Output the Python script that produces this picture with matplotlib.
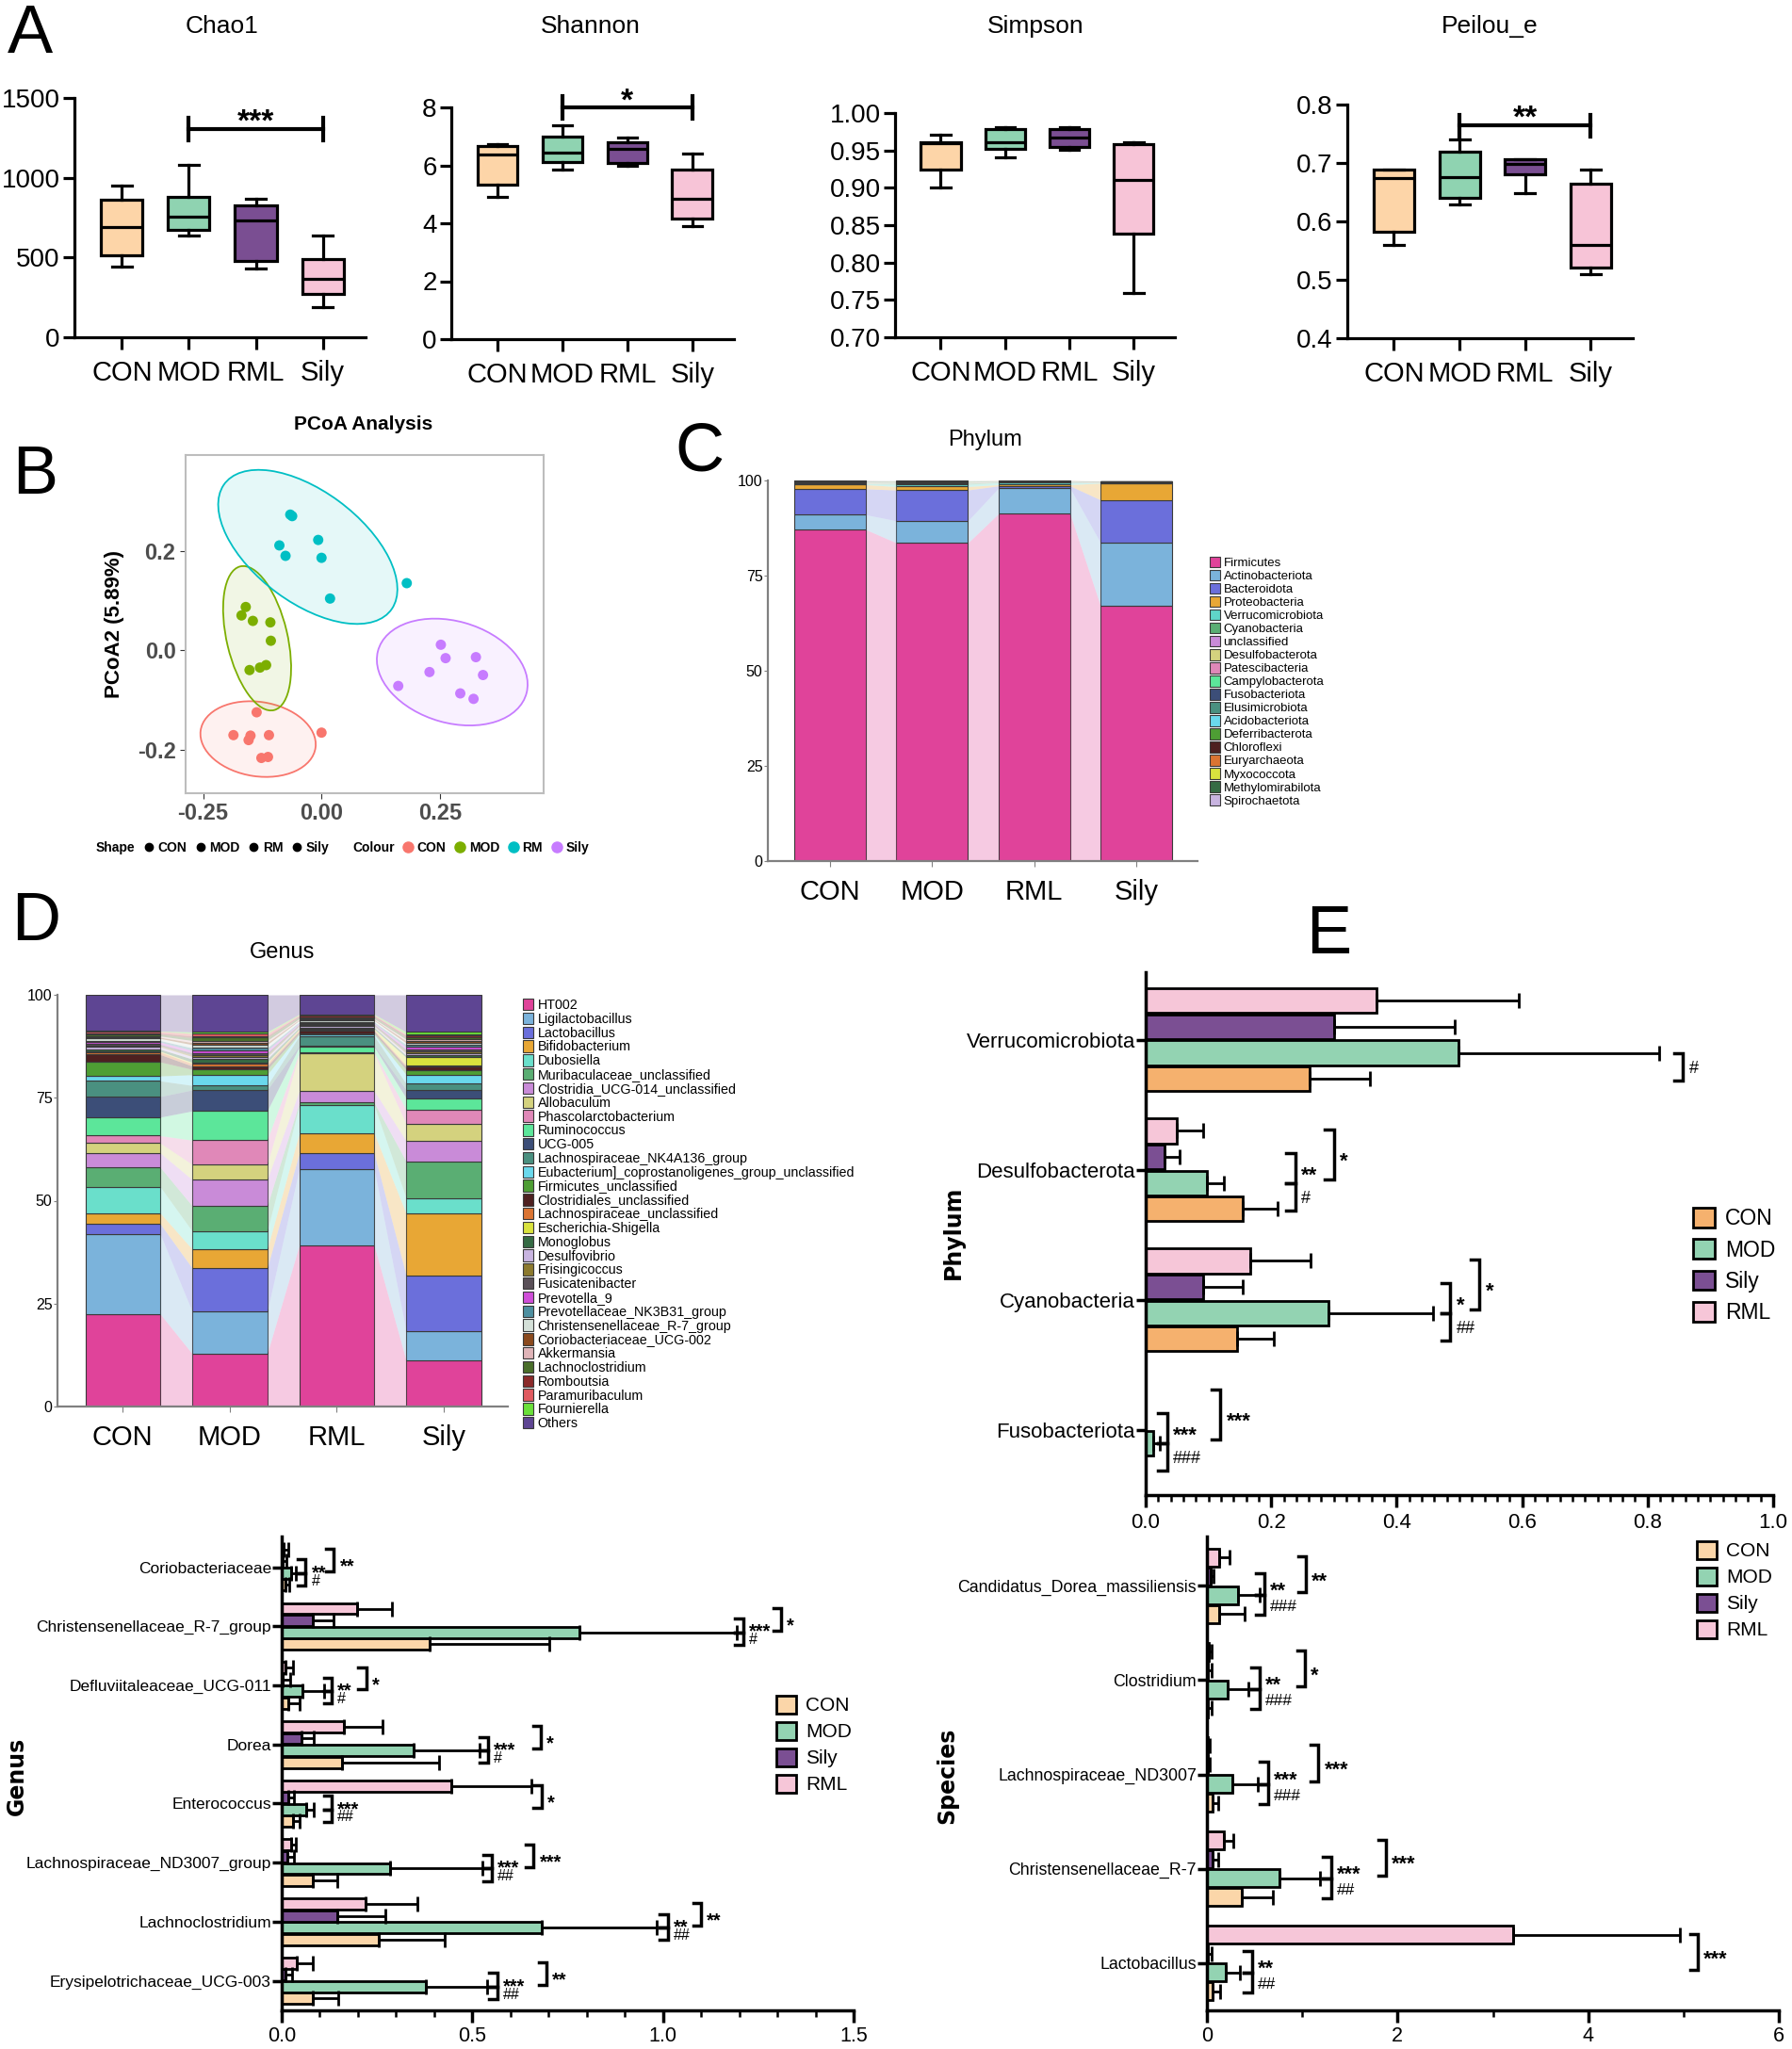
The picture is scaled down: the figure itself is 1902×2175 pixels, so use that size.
import numpy as np
import matplotlib
matplotlib.use('Agg')
import matplotlib.pyplot as plt
from matplotlib.patches import Ellipse
from matplotlib.lines import Line2D
from matplotlib.colors import to_rgba
from matplotlib.ticker import MultipleLocator
from matplotlib import font_manager

W, H = 1902, 2175
installed = {f.name for f in font_manager.fontManager.ttflist}
NARROW = 'Liberation Sans Narrow' if 'Liberation Sans Narrow' in installed else 'Liberation Sans'
plt.rcParams['font.family'] = [NARROW, 'DejaVu Sans']

# ---------------- data ----------------
groups = ['CON', 'MOD', 'RML', 'Sily']

# box stats: low whisker, q1, median, q3, high whisker
chao1 = [[441, 515, 689, 863, 952], [639, 675, 758, 881, 1081],
         [431, 481, 732, 827, 871], [188, 273, 366, 491, 635]]
shannon = [[4.9, 5.34, 6.38, 6.66, 6.74], [5.84, 6.13, 6.44, 7.0, 7.37],
           [5.98, 6.07, 6.56, 6.8, 6.96], [3.9, 4.15, 4.85, 5.85, 6.42]]
simpson = [[0.901, 0.9245, 0.9595, 0.9615, 0.9715], [0.941, 0.952, 0.9615, 0.9786, 0.9816],
           [0.951, 0.955, 0.9673, 0.9786, 0.9816], [0.7596, 0.839, 0.911, 0.958, 0.9615]]
pielou = [[0.559, 0.583, 0.674, 0.688, 0.688], [0.629, 0.640, 0.675, 0.719, 0.740],
          [0.649, 0.680, 0.698, 0.707, 0.707], [0.509, 0.521, 0.559, 0.665, 0.689]]

# PCoA points
pcoa_groups = ['CON', 'MOD', 'RM', 'Sily']
pcoa_x = [[-0.137, -0.186, -0.150, -0.154, -0.111, -0.127, -0.113, 0.0],
          [-0.160, -0.169, -0.145, -0.108, -0.107, -0.152, -0.130, -0.117],
          [-0.066, -0.062, -0.089, -0.076, -0.007, 0.0, 0.018, 0.180],
          [0.252, 0.262, 0.326, 0.228, 0.341, 0.162, 0.293, 0.321]]
pcoa_y = [[-0.125, -0.171, -0.172, -0.181, -0.171, -0.217, -0.215, -0.166],
          [0.087, 0.070, 0.059, 0.056, 0.019, -0.040, -0.035, -0.030],
          [0.273, 0.270, 0.211, 0.190, 0.222, 0.186, 0.104, 0.135],
          [0.011, -0.016, -0.014, -0.044, -0.050, -0.072, -0.087, -0.098]]
ell_cx = [-0.134, -0.136, -0.029, 0.276]
ell_cy = [-0.179, 0.024, 0.208, -0.044]
ell_w = [0.245, 0.298, 0.434, 0.325]
ell_h = [0.150, 0.128, 0.226, 0.205]
ell_angle = [-8, 104, -35, -15]

# Phylum composition (%)
phylum_names = ['Firmicutes', 'Actinobacteriota', 'Bacteroidota', 'Proteobacteria', 'Verrucomicrobiota',
                'Cyanobacteria', 'unclassified', 'Desulfobacterota', 'Patescibacteria', 'Campylobacterota',
                'Fusobacteriota', 'Elusimicrobiota', 'Acidobacteriota', 'Deferribacterota', 'Chloroflexi',
                'Euryarchaeota', 'Myxococcota', 'Methylomirabilota', 'Spirochaetota']
phylum_con = [87.1, 3.9, 6.8, 1.1, 0.2, 0.15, 0.05, 0.2, 0.05, 0.05, 0.05, 0.1, 0.02, 0.05, 0.1, 0.01, 0.01, 0.01, 0.05]
phylum_mod = [83.6, 5.8, 8.1, 0.9, 0.6, 0.3, 0.05, 0.1, 0.05, 0.05, 0.02, 0.05, 0.05, 0.1, 0.05, 0.02, 0.02, 0.05, 0.06]
phylum_rml = [91.3, 6.7, 0.6, 0.3, 0.5, 0.2, 0.05, 0.05, 0.05, 0.02, 0.01, 0.02, 0.02, 0.05, 0.05, 0.02, 0.02, 0.02, 0.01]
phylum_sily = [67.0, 16.6, 11.3, 4.4, 0.05, 0.1, 0.05, 0.05, 0.02, 0.02, 0.01, 0.02, 0.02, 0.05, 0.1, 0.02, 0.02, 0.02, 0.02]
phylum_colors = ['#E0439A', '#7BB3DB', '#6B6FDB', '#E8A735', '#5FD6C9', '#5AAE73', '#C98BD8', '#D4D27E',
                 '#E088B8', '#5CE69A', '#3C4E78', '#4A9080', '#6AD8EC', '#4E9E34', '#4E2020', '#DB7432',
                 '#D9E23E', '#356B44', '#C8B4E0']

# Genus composition (%)
genus_names = ['HT002', 'Ligilactobacillus', 'Lactobacillus', 'Bifidobacterium', 'Dubosiella',
               'Muribaculaceae_unclassified', 'Clostridia_UCG-014_unclassified', 'Allobaculum',
               'Phascolarctobacterium', 'Ruminococcus', 'UCG-005', 'Lachnospiraceae_NK4A136_group',
               'Eubacterium]_coprostanoligenes_group_unclassified', 'Firmicutes_unclassified',
               'Clostridiales_unclassified', 'Lachnospiraceae_unclassified', 'Escherichia-Shigella',
               'Monoglobus', 'Desulfovibrio', 'Frisingicoccus', 'Fusicatenibacter', 'Prevotella_9',
               'Prevotellaceae_NK3B31_group', 'Christensenellaceae_R-7_group', 'Coriobacteriaceae_UCG-002',
               'Akkermansia', 'Lachnoclostridium', 'Romboutsia', 'Paramuribaculum', 'Fournierella', 'Others']
genus_con = [22.5, 19.4, 2.5, 2.6, 6.4, 4.7, 3.5, 2.4, 1.8, 4.5, 5.0, 3.8, 1.2, 3.4, 1.8, 0.6, 0.2, 0.5,
             0.6, 0.3, 0.3, 0.5, 0.4, 0.5, 0.3, 0.3, 0.4, 0.3, 0.4, 0.1, 8.8]
genus_mod = [12.8, 10.2, 10.6, 4.6, 4.4, 6.1, 6.4, 3.7, 5.9, 7.1, 5.1, 1.1, 2.6, 1.3, 0.8, 0.6, 0.3, 0.8,
             0.6, 0.4, 0.5, 0.6, 0.6, 0.8, 0.5, 0.5, 0.7, 0.4, 0.6, 0.4, 9.0]
genus_rml = [39.2, 18.5, 3.9, 4.8, 6.8, 0.6, 2.9, 9.0, 0.3, 1.4, 0.3, 2.3, 0.4, 0.3, 0.5, 0.3, 0.2, 0.4,
             0.3, 0.2, 0.3, 0.2, 0.3, 0.4, 0.2, 0.2, 0.4, 0.3, 0.2, 0.2, 4.7]
genus_sily = [11.1, 7.1, 13.6, 15.0, 3.8, 8.9, 5.0, 4.1, 3.5, 2.8, 2.0, 1.5, 2.2, 1.2, 0.7, 0.4, 1.9, 0.5,
              0.5, 0.4, 0.5, 0.6, 0.6, 0.4, 0.5, 0.4, 0.5, 0.4, 0.3, 0.6, 9.0]
genus_colors = ['#E0439A', '#7BB3DB', '#6B6FDB', '#E8A735', '#6ADFCB', '#5AAE73', '#C98BD8', '#D4D27E',
                '#E088B8', '#5CE69A', '#3C4E78', '#4A9080', '#6AD8EC', '#4E9E34', '#4E2020', '#DB7432',
                '#D9E23E', '#356B44', '#C8B4E0', '#8C7A2E', '#5A5058', '#CF4FD8', '#4E8FA0', '#D4E0D8',
                '#8B4A1E', '#E0B4B8', '#4A6E2A', '#8B2A2A', '#E05A60', '#6AE03A', '#5E4593']

# E: phylum relative abundance (top to bottom)
phyla_e = ['Verrucomicrobiota', 'Desulfobacterota', 'Cyanobacteria', 'Fusobacteriota']
phyla_mean = {'CON': [0.262, 0.155, 0.146, 0.0], 'MOD': [0.499, 0.097, 0.292, 0.012],
              'Sily': [0.300, 0.030, 0.092, 0.0], 'RML': [0.368, 0.050, 0.166, 0.0]}
phyla_sd = {'CON': [0.095, 0.055, 0.058, 0.0], 'MOD': [0.32, 0.028, 0.166, 0.010],
            'Sily': [0.193, 0.024, 0.063, 0.0], 'RML': [0.227, 0.041, 0.097, 0.0]}
phyla_sig = [(0, 'b', 0.856, '#'),
             (1, 'a', 0.238, '**'), (1, 'b', 0.238, '#'), (1, 'c', 0.300, '*'),
             (2, 'a', 0.485, '*'), (2, 'b', 0.485, '##'), (2, 'c', 0.532, '*'),
             (3, 'a', 0.034, '***'), (3, 'b', 0.034, '###'), (3, 'c', 0.119, '***')]

genera_e = ['Coriobacteriaceae', 'Christensenellaceae_R-7_group', 'Defluviitaleaceae_UCG-011', 'Dorea',
            'Enterococcus', 'Lachnospiraceae_ND3007_group', 'Lachnoclostridium', 'Erysipelotrichaceae_UCG-003']
genera_mean = {'CON': [0.01, 0.387, 0.018, 0.157, 0.030, 0.082, 0.255, 0.082],
               'MOD': [0.025, 0.782, 0.054, 0.346, 0.064, 0.283, 0.682, 0.378],
               'Sily': [0.003, 0.082, 0.002, 0.051, 0.018, 0.015, 0.145, 0.010],
               'RML': [0.006, 0.198, 0.010, 0.162, 0.445, 0.024, 0.220, 0.040]}
genera_sd = {'CON': [0.010, 0.316, 0.030, 0.255, 0.016, 0.063, 0.172, 0.066],
             'MOD': [0.012, 0.412, 0.056, 0.174, 0.021, 0.244, 0.302, 0.160],
             'Sily': [0.010, 0.053, 0.020, 0.033, 0.013, 0.018, 0.128, 0.018],
             'RML': [0.012, 0.090, 0.020, 0.102, 0.210, 0.013, 0.135, 0.042]}
genera_sig = [(0, 'a', 0.063, '**'), (0, 'b', 0.063, '#'), (0, 'c', 0.137, '**'),
              (1, 'a', 1.21, '***'), (1, 'b', 1.21, '#'), (1, 'c', 1.31, '*'),
              (2, 'a', 0.131, '**'), (2, 'b', 0.131, '#'), (2, 'c', 0.222, '*'),
              (3, 'a', 0.54, '***'), (3, 'b', 0.54, '#'), (3, 'c', 0.68, '*'),
              (4, 'a', 0.131, '***'), (4, 'b', 0.131, '##'), (4, 'c', 0.682, '*'),
              (5, 'a', 0.55, '***'), (5, 'b', 0.55, '##'), (5, 'c', 0.661, '***'),
              (6, 'a', 1.012, '**'), (6, 'b', 1.012, '##'), (6, 'c', 1.100, '**'),
              (7, 'a', 0.565, '***'), (7, 'b', 0.565, '##'), (7, 'c', 0.695, '**')]

species_e = ['Candidatus_Dorea_massiliensis', 'Clostridium', 'Lachnospiraceae_ND3007',
             'Christensenellaceae_R-7', 'Lactobacillus']
species_mean = {'CON': [0.13, 0.01, 0.06, 0.368, 0.06], 'MOD': [0.327, 0.22, 0.267, 0.76, 0.196],
                'Sily': [0.036, 0.01, 0.005, 0.06, 0.01], 'RML': [0.13, 0.02, 0.01, 0.178, 3.21]}
species_sd = {'CON': [0.27, 0.04, 0.06, 0.327, 0.077], 'MOD': [0.223, 0.21, 0.268, 0.43, 0.149],
              'Sily': [0.034, 0.04, 0.025, 0.06, 0.04], 'RML': [0.11, 0.03, 0.02, 0.102, 1.75]}
species_sig = [(0, 'a', 0.60, '**'), (0, 'b', 0.60, '###'), (0, 'c', 1.04, '**'),
               (1, 'a', 0.55, '**'), (1, 'b', 0.55, '###'), (1, 'c', 1.03, '*'),
               (2, 'a', 0.64, '***'), (2, 'b', 0.64, '###'), (2, 'c', 1.17, '***'),
               (3, 'a', 1.30, '***'), (3, 'b', 1.30, '##'), (3, 'c', 1.88, '***'),
               (4, 'a', 0.47, '**'), (4, 'b', 0.47, '##'), (4, 'c', 5.15, '***')]

# ---------------- styles ----------------
box_colors = ['#FDD5A8', '#8FD3B1', '#7A4E92', '#F7C4D7']
pcoa_colors = ['#F8766D', '#7CAE00', '#00BFC4', '#C77CFF']
bar_order = ['CON', 'MOD', 'Sily', 'RML']
bar_offsets = [-0.3, -0.1, 0.1, 0.3]
kind_offsets = {'a': (0.13, -0.1), 'b': (-0.1, -0.31), 'c': (0.31, -0.07)}


def px_rect(x0, y0, x1, y1):
    return [x0 / W, 1 - y1 / H, (x1 - x0) / W, (y1 - y0) / H]


def ftext(x, y, s, **kw):
    fig.text(x / W, 1 - y / H, s, **kw)


fig = plt.figure(figsize=(W / 100, H / 100), dpi=100)

# ---------------- A: alpha diversity ----------------
box_panels = [
    ('Chao1', chao1, (0, 1500), [0, 500, 1000, 1500], '{:.0f}', ('***', 1306, 72, 1411), (79, 104, 388, 358), 236),
    ('Shannon', shannon, (0, 8), [0, 2, 4, 6, 8], '{:.0f}', ('*', 8.0, 0.4, 8.55), (479, 114, 779, 360), 627),
    ('Simpson', simpson, (0.70, 1.00), [0.70, 0.75, 0.80, 0.85, 0.90, 0.95, 1.00], '{:.2f}', None,
     (950, 120, 1247, 358), 1099),
    ('Peilou_e', pielou, (0.4, 0.8), [0.4, 0.5, 0.6, 0.7, 0.8], '{:.1f}', ('**', 0.764, 0.019, 0.794),
     (1430, 111, 1733, 359), 1581),
]
for title, stats, ylim, yticks, fmt, sig, r, tx in box_panels:
    ax = fig.add_axes(px_rect(*r))
    st = [dict(whislo=s[0], q1=s[1], med=s[2], q3=s[3], whishi=s[4], fliers=[]) for s in stats]
    b = ax.bxp(st, positions=[1, 2, 3, 4], widths=0.62, patch_artist=True, showfliers=False,
               boxprops=dict(linewidth=2.3, edgecolor='black'),
               medianprops=dict(color='black', linewidth=2.3),
               whiskerprops=dict(linewidth=2.3), capprops=dict(linewidth=2.3), capwidths=0.3)
    for patch, c in zip(b['boxes'], box_colors):
        patch.set_facecolor(c)
    ax.set_xlim(0.29, 4.64)
    ax.set_ylim(*ylim)
    ax.set_yticks(yticks)
    ax.set_yticklabels([fmt.format(v) for v in yticks])
    ax.set_xticks([1, 2, 3, 4])
    ax.set_xticklabels(groups)
    ax.spines[['top', 'right']].set_visible(False)
    ax.spines[['left', 'bottom']].set_linewidth(2.3)
    ax.tick_params(width=2.3, length=9)
    ax.tick_params(axis='y', labelsize=20, pad=2)
    ax.tick_params(axis='x', labelsize=21, pad=8)
    if sig:
        txt, yb, hh, yt = sig
        ax.plot([2, 4], [yb, yb], color='black', lw=3, clip_on=False)
        for xx in (2, 4):
            ax.plot([xx, xx], [yb - hh, yb + hh], color='black', lw=3, clip_on=False)
        ax.annotate(txt, (3, yt), xytext=(0, -14), textcoords='offset points', ha='center',
                    va='baseline', fontsize=24, fontweight='bold', annotation_clip=False)
    ftext(tx, 28, title, ha='center', va='center', fontsize=19)

ftext(8, 4, 'A', ha='left', va='top', fontsize=52, family='Liberation Sans')

# ---------------- B: PCoA ----------------
axb = fig.add_axes(px_rect(197, 483, 577, 842))
for g in range(4):
    axb.add_patch(Ellipse((ell_cx[g], ell_cy[g]), ell_w[g], ell_h[g], angle=ell_angle[g],
                          facecolor=to_rgba(pcoa_colors[g], 0.1), edgecolor=pcoa_colors[g], lw=1.3))
    axb.scatter(pcoa_x[g], pcoa_y[g], s=62, color=pcoa_colors[g], edgecolors='none', zorder=3)
axb.set_xlim(-0.287, 0.469)
axb.set_ylim(-0.288, 0.393)
axb.set_xticks([-0.25, 0.0, 0.25])
axb.set_xticklabels(['-0.25', '0.00', '0.25'])
axb.set_yticks([-0.2, 0.0, 0.2])
axb.set_yticklabels(['-0.2', '0.0', '0.2'])
for sp in axb.spines.values():
    sp.set_color('#BDBDBD')
    sp.set_linewidth(1.5)
axb.tick_params(colors='#333333', labelcolor='#4D4D4D', length=4, labelsize=17)
for lab in axb.get_xticklabels() + axb.get_yticklabels():
    lab.set_fontweight('bold')
    lab.set_family('Liberation Sans')
axb.set_ylabel('PCoA2 (5.89%)', fontsize=16, fontweight='bold', family='Liberation Sans', labelpad=10)
ftext(386, 450, 'PCoA Analysis', ha='center', va='center', fontsize=15, fontweight='bold',
      family='Liberation Sans')
ftext(13, 472, 'B', ha='left', va='top', fontsize=52, family='Liberation Sans')

leg_handles = [Line2D([], [], ls='none', label='Shape')]
leg_handles += [Line2D([], [], ls='none', marker='o', color='black', markersize=6, label=g) for g in pcoa_groups]
leg_handles += [Line2D([], [], ls='none', label='Colour')]
leg_handles += [Line2D([], [], ls='none', marker='o', color=c, markersize=8, label=g)
                for g, c in zip(pcoa_groups, pcoa_colors)]
fig.legend(handles=leg_handles, loc='center', bbox_to_anchor=(356 / W, 1 - 900 / H), ncol=10, frameon=False,
           prop=dict(size=10, weight='bold', family='Liberation Sans'), handlelength=0.7,
           handletextpad=0.35, columnspacing=0.7)


# ---------------- C, D: stacked composition ----------------
def stacked(ax, names, colors, table):
    vals = np.array(table).T
    x = np.arange(4)
    w = 0.7
    bottom = np.zeros(4)
    for name, c, v in zip(names, colors, vals):
        ax.bar(x, v, w, bottom=bottom, color=c, edgecolor='#3a3a3a', linewidth=0.8, label=name)
        for j in range(3):
            ax.fill_between([x[j] + w / 2, x[j + 1] - w / 2], [bottom[j], bottom[j + 1]],
                            [bottom[j] + v[j], bottom[j + 1] + v[j + 1]], color=c, alpha=0.28, linewidth=0)
        bottom = bottom + v
    ax.set_xlim(-0.61, 3.6)
    ax.set_ylim(0, 100)
    ax.set_xticks(x)
    ax.set_xticklabels(groups)
    ax.set_yticks([0, 25, 50, 75, 100])
    ax.spines[['top', 'right']].set_visible(False)
    for s in ('left', 'bottom'):
        ax.spines[s].set_color('#808080')
        ax.spines[s].set_linewidth(1.6)
    ax.tick_params(axis='y', labelsize=11.5, length=3, color='#808080', pad=1)
    ax.tick_params(axis='x', labelsize=21, length=4, color='#808080', pad=10)


axc = fig.add_axes(px_rect(815, 510, 1271, 914))
stacked(axc, phylum_names, phylum_colors, [phylum_con, phylum_mod, phylum_rml, phylum_sily])
axc.legend(loc='upper left', bbox_to_anchor=(1284 / W, 1 - 591 / H), bbox_transform=fig.transFigure,
           frameon=False, fontsize=9.5, handlelength=0.8, handleheight=0.95, labelspacing=0.06,
           handletextpad=0.3, borderpad=0, borderaxespad=0)
ftext(1045, 467, 'Phylum', ha='center', va='center', fontsize=17)
ftext(716, 448, 'C', ha='left', va='top', fontsize=52, family='Liberation Sans')

axd = fig.add_axes(px_rect(61, 1056, 539, 1493))
stacked(axd, genus_names, genus_colors, [genus_con, genus_mod, genus_rml, genus_sily])
axd.legend(loc='upper left', bbox_to_anchor=(555 / W, 1 - 1060 / H), bbox_transform=fig.transFigure,
           frameon=False, fontsize=10.3, handlelength=0.8, handleheight=0.95, labelspacing=0.05,
           handletextpad=0.3, borderpad=0, borderaxespad=0)
ftext(300, 1011, 'Genus', ha='center', va='center', fontsize=17)
ftext(12, 946, 'D', ha='left', va='top', fontsize=52, family='Liberation Sans')


# ---------------- E: horizontal bars ----------------
def hbars(ax, cats, means, sds, sig, xmax, minor, con_color, tick_fs, legend_xy, leg_fs, leg_space,
          star_fs=16, hash_fs=13):
    n = len(cats)
    y = np.arange(n)[::-1].astype(float)
    cols = {'CON': con_color, 'MOD': '#93D3B2', 'Sily': '#7B4F93', 'RML': '#F6C6D8'}
    for g, off in zip(bar_order, bar_offsets):
        ax.barh(y + off, means[g], height=0.19, color=cols[g], edgecolor='black', linewidth=2,
                xerr=[np.zeros(n), sds[g]],
                error_kw=dict(ecolor='black', elinewidth=2, capsize=6, capthick=2), label=g)
    ax.set_xlim(0, xmax)
    ax.set_ylim(-0.5, n - 0.48)
    ax.set_yticks(y)
    ax.set_yticklabels(cats)
    ax.xaxis.set_minor_locator(MultipleLocator(minor))
    ax.spines[['top', 'right']].set_visible(False)
    ax.spines[['left', 'bottom']].set_linewidth(2.5)
    ax.tick_params(axis='y', labelsize=tick_fs, width=2.5, length=7, pad=1)
    ax.tick_params(axis='x', which='major', labelsize=15.5, width=2.5, length=9, pad=3)
    ax.tick_params(axis='x', which='minor', width=1.8, length=5)
    for gi, kind, x, label in sig:
        yc = y[gi]
        y1, y2 = yc + kind_offsets[kind][0], yc + kind_offsets[kind][1]
        arm = 0.014 * xmax
        ax.plot([x - arm, x, x, x - arm], [y1, y1, y2, y2], color='black', lw=2.5, clip_on=False,
                solid_joinstyle='miter')
        star = '*' in label
        fs = star_fs if star else hash_fs
        ax.annotate(label, (x + 0.010 * xmax, (y1 + y2) / 2), xytext=(0, -0.62 * fs if star else -0.38 * fs),
                    textcoords='offset points', ha='left', va='baseline', fontsize=fs,
                    fontweight='bold' if star else 'normal', annotation_clip=False)
    ax.legend(loc='upper left', bbox_to_anchor=(legend_xy[0] / W, 1 - legend_xy[1] / H),
              bbox_transform=fig.transFigure, frameon=False, fontsize=leg_fs, handlelength=1.0,
              handleheight=1.0, labelspacing=leg_space, handletextpad=0.5, borderpad=0, borderaxespad=0)


axe = fig.add_axes(px_rect(1216, 1032, 1882, 1587))
hbars(axe, phyla_e, phyla_mean, phyla_sd, phyla_sig, 1.0, 0.02, '#F5B16E', 16, (1797, 1282), 16.5, 0.45)
axe.set_xticks([0, 0.2, 0.4, 0.6, 0.8, 1.0])
axe.set_xticklabels(['0.0', '0.2', '0.4', '0.6', '0.8', '1.0'])
axe.tick_params(axis='x', which='major', pad=5, labelsize=16)
ftext(1012, 1308, 'Phylum', ha='center', va='center', rotation=90, fontsize=17, fontweight='bold',
      family='DejaVu Sans')
ftext(1386, 960, 'E', ha='left', va='top', fontsize=52, family='Liberation Sans')

axg = fig.add_axes(px_rect(299, 1631, 906, 2134))
hbars(axg, genera_e, genera_mean, genera_sd, genera_sig, 1.5, 0.1, '#FBD6A9', 12.5, (824, 1800), 15, 0.36,
      star_fs=14.5, hash_fs=11.5)
axg.set_xticks([0, 0.5, 1.0, 1.5])
axg.set_xticklabels(['0.0', '0.5', '1.0', '1.5'])
ftext(18, 1885, 'Genus', ha='center', va='center', rotation=90, fontsize=17, fontweight='bold',
      family='DejaVu Sans')

axs = fig.add_axes(px_rect(1281, 1631, 1888, 2134))
hbars(axs, species_e, species_mean, species_sd, species_sig, 6.0, 1.0, '#FBD6A9', 12.8, (1801, 1636), 15, 0.36,
      star_fs=15.5, hash_fs=12.5)
axs.set_xticks([0, 2, 4, 6])
ftext(1005, 1885, 'Species', ha='center', va='center', rotation=90, fontsize=17, fontweight='bold',
      family='DejaVu Sans')

fig.savefig('out.png', dpi=100)
